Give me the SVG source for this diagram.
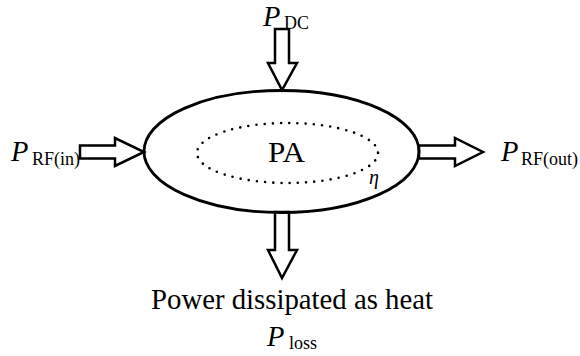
<svg xmlns="http://www.w3.org/2000/svg" width="580" height="356" viewBox="0 0 580 356">
  <style>
    .arrow { fill: #ffffff; stroke: #000000; stroke-width: 2.5; stroke-linejoin: miter; }
    .outer { fill: none; stroke: #000000; stroke-width: 2.8; }
    .dots { fill: none; stroke: #000000; stroke-width: 2.6; stroke-linecap: round; stroke-dasharray: 0 8.2; }
    text { font-family: "Liberation Serif", "Times New Roman", Times, serif; fill: #000000; }
    .var { font-style: italic; font-size: 28.5px; }
    .sub { font-size: 18px; }
  </style>
  <rect width="580" height="356" fill="#ffffff"/>
  <g id="connectors">
    <polygon id="arrow-dc" class="arrow" points="275,29 289,29 289,63 297,63 282,90 268,63 275,63"/>
    <polygon id="arrow-loss" class="arrow" points="275,212 289,212 289,250 297,250 282,278 268,250 275,250"/>
    <polygon id="arrow-in" class="arrow" points="80,145.5 115,145.5 115,138 144,152 115,166 115,158.5 80,158.5"/>
    <polygon id="arrow-out" class="arrow" points="419,145.5 455,145.5 455,138 483,152 455,166 455,158.5 419,158.5"/>
  </g>
  <g id="pa">
    <ellipse class="outer" cx="281.5" cy="151.5" rx="137.5" ry="61"/>
    <ellipse class="dots" cx="287.5" cy="153" rx="90.5" ry="30"/>
    <text x="268" y="162" font-size="28.5" textLength="37" lengthAdjust="spacingAndGlyphs">PA</text>
    <text x="369" y="184" font-size="20" font-style="italic">η</text>
  </g>
  <g id="label-dc">
    <text x="263" y="26"><tspan class="var">P</tspan><tspan class="sub" x="284" y="29">DC</tspan></text>
  </g>
  <g id="label-rfin">
    <text x="11" y="161"><tspan class="var">P</tspan><tspan class="sub" x="32" y="165">RF(in)</tspan></text>
  </g>
  <g id="label-rfout">
    <text x="501" y="161"><tspan class="var">P</tspan><tspan class="sub" x="521" y="165">RF(out)</tspan></text>
  </g>
  <g id="label-loss">
    <text x="151" y="309" font-size="28.5" textLength="282" lengthAdjust="spacingAndGlyphs">Power dissipated as heat</text>
    <text x="267" y="346"><tspan class="var">P</tspan><tspan class="sub" x="289" y="349">loss</tspan></text>
  </g>
</svg>
